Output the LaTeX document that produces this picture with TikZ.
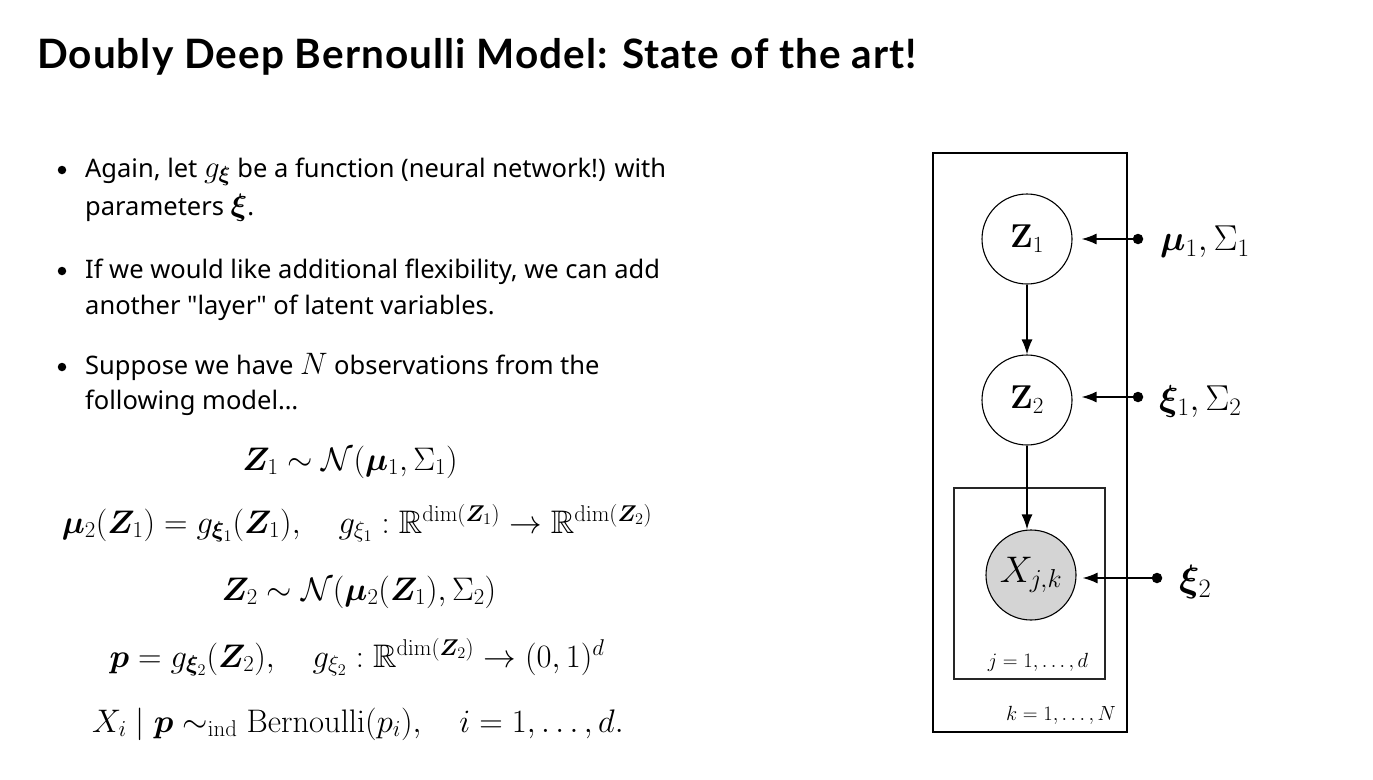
\RequirePackage{fix-cm}
\documentclass[tikz,border=0pt]{standalone}
\usepackage{amsmath,amssymb,bm}
\usepackage[no-math]{fontspec}
\setmainfont{Noto Sans}
\newfontfamily\titlefont{Lato}[LetterSpace=2.5]
\usetikzlibrary{arrows.meta}
\newcommand{\inm}[1]{{\fontsize{31}{36}\selectfont$#1$}}
\tikzset{
  body/.style={anchor=base west, inner sep=0pt, font=\fontsize{25.5}{30}\selectfont},
  eqn/.style={anchor=base, inner sep=0pt, font=\fontsize{32.6}{38}\selectfont},
  bul/.style={circle, fill=black, inner sep=0pt, minimum size=8.5pt},
  var/.style={circle, draw=black, line width=1.1pt, minimum size=90pt, inner sep=0pt, font=\fontsize{33}{38}\selectfont},
  obs/.style={var, fill=black!17},
  par/.style={circle, fill=black, inner sep=0pt, minimum size=10.5pt},
  plabel/.style={anchor=west, inner sep=0pt, font=\fontsize{36}{42}\selectfont},
  plate/.style={draw=black, line width=1.8pt},
  iplate/.style={draw=black!85, line width=1.1pt},
  edge/.style={line width=1.6pt, -{Latex[length=15pt,width=11pt]}},
  platelab/.style={inner sep=0pt, font=\fontsize{20.5}{24}\selectfont}
}
\begin{document}
\begin{tikzpicture}[x=1pt,y=-1pt]
\useasboundingbox[fill=white] (0,0) rectangle (1373,779);

% title
\node[anchor=base west, inner sep=0pt, font=\titlefont\bfseries\fontsize{40.5}{48}\selectfont] (title) at (37,68) {Doubly Deep Bernoulli Model: State of the art!};

% bullets
\node[bul] (b1) at (62,170) {};
\node[bul] (b2) at (62,271) {};
\node[bul] (b3) at (62,367) {};
\node[body] (t1) at (85,177) {Again, let \inm{g_{\bm\xi}} be a function (neural network!) with};
\node[body] (t2) at (85,215) {parameters \inm{\bm\xi}.};
\node[body] (t3) at (85,278) {If we would like additional flexibility, we can add};
\node[body] (t4) at (85,314) {another \textquotedbl layer\textquotedbl{} of latent variables.};
\node[body] (t5) at (85,374) {Suppose we have \inm{N} observations from the};
\node[body] (t6) at (85,409) {following model…};

% equations
\node[eqn] (e1) at (350,470) {$\bm Z_1 \sim \mathcal{N}(\bm\mu_1, \Sigma_1)$};
\node[eqn] (e2) at (357,533) {$\bm\mu_2(\bm Z_1) = g_{\bm\xi_1}(\bm Z_1), \quad g_{\xi_1} : \mathbb{R}^{\dim(\bm Z_1)} \to \mathbb{R}^{\dim(\bm Z_2)}$};
\node[eqn] (e3) at (359,600) {$\bm Z_2 \sim \mathcal{N}(\bm\mu_2(\bm Z_1), \Sigma_2)$};
\node[eqn] (e4) at (357,667) {$\bm p = g_{\bm\xi_2}(\bm Z_2), \quad g_{\xi_2} : \mathbb{R}^{\dim(\bm Z_2)} \to (0,1)^d$};
\node[eqn] (e5) at (358,732) {$X_i \mid \bm p \sim_{\mathrm{ind}} \mathrm{Bernoulli}(p_i), \quad i = 1, \ldots, d.$};

% graphical model
\draw[plate] (933,153) rectangle (1127,732);
\draw[iplate] (954,488) rectangle (1105,679);
\node[var] (Z1) at (1027,239) {$\mathbf{Z}_1$};
\node[var] (Z2) at (1027,400) {$\mathbf{Z}_2$};
\node[obs, font=\fontsize{37}{42}\selectfont] (X) at (1031,575) {$X_{j,k}$};
\node[par] (p1) at (1138,239) {};
\node[par] (p2) at (1138,397) {};
\node[par] (p3) at (1157,578) {};
\node[plabel] (l1) at (1160,242) {$\bm\mu_1, \Sigma_1$};
\node[plabel] (l2) at (1159,401) {$\bm\xi_1, \Sigma_2$};
\node[plabel, font=\fontsize{38}{44}\selectfont] (l3) at (1179,582) {$\bm\xi_2$};
\node[platelab] (jl) at (1038,662) {$j = 1, \ldots, d$};
\node[platelab] (kl) at (1061,715) {$k = 1, \ldots, N$};

\draw[edge] (Z1) -- (Z2);
\draw[edge] (Z2.south) -- (Z2.south |- X.north);
\draw[edge, shorten >=9pt] (p1) -- (p1 -| Z1.east);
\draw[edge, shorten >=9pt] (p2) -- (p2 -| Z2.east);
\draw[edge, shorten >=6pt] (p3) -- (p3 -| X.east);
\end{tikzpicture}
\end{document}
